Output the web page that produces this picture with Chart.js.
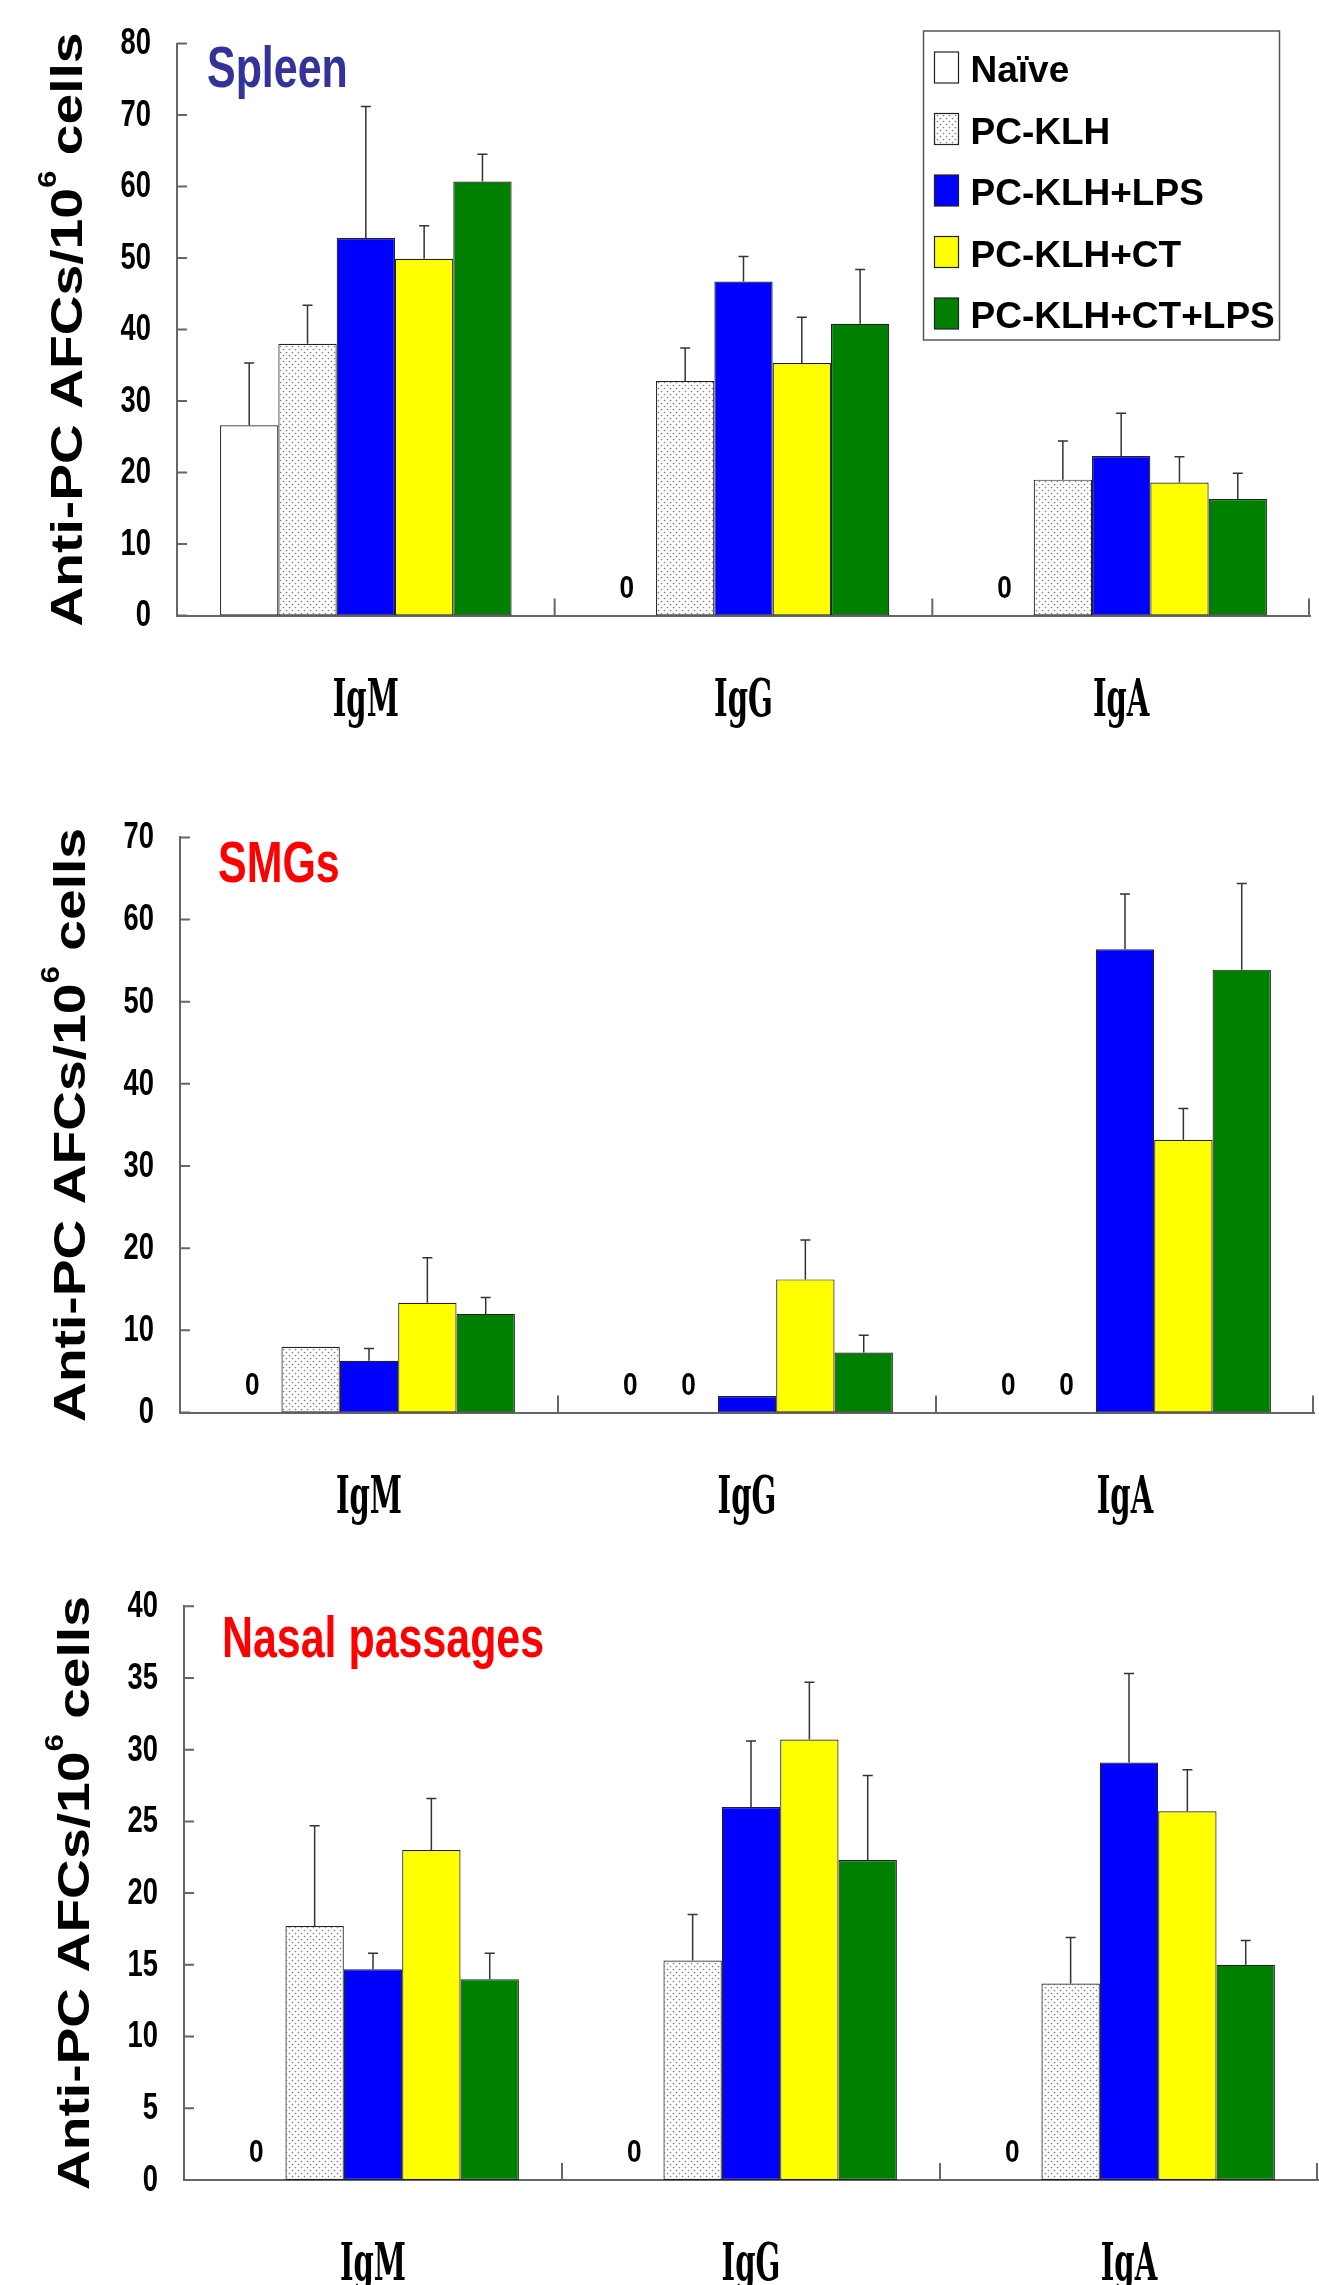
<!DOCTYPE html>
<html>
<head>
<meta charset="utf-8">
<script src="https://cdn.jsdelivr.net/npm/chart.js@4.4.0/dist/chart.umd.min.js"></script>
<style>
  body { margin: 0; background: #fff; }
  #wrap { position: relative; width: 1319px; height: 2285px; }
  canvas { position: absolute; left: 0; }
</style>
</head>
<body>
<div id="wrap">
  <canvas id="spleen" width="1319" height="760" style="top:0px"></canvas>
  <canvas id="smg" width="1319" height="770" style="top:760px"></canvas>
  <canvas id="nasal" width="1319" height="755" style="top:1530px"></canvas>
</div>
<script>
const categories = ['IgM', 'IgG', 'IgA'];
const groupNames = ['Naïve', 'PC-KLH', 'PC-KLH+LPS', 'PC-KLH+CT', 'PC-KLH+CT+LPS'];

// Spleen
const spleenNaive = [26.6, 0, 0];
const spleenKLH = [38.0, 32.8, 19.0];
const spleenLPS = [52.8, 46.7, 22.3];
const spleenCT = [49.9, 35.3, 18.6];
const spleenCTLPS = [60.7, 40.8, 16.3];
const spleenNaiveErr = [8.7, 0, 0];
const spleenKLHErr = [5.4, 4.6, 5.4];
const spleenLPSErr = [18.4, 3.5, 6.0];
const spleenCTErr = [4.6, 6.4, 3.6];
const spleenCTLPSErr = [3.8, 7.6, 3.6];

// SMGs
const smgNaive = [0, 0, 0];
const smgKLH = [8.0, 0, 0];
const smgLPS = [6.3, 2.0, 56.4];
const smgCT = [13.35, 16.2, 33.2];
const smgCTLPS = [12.0, 7.3, 53.9];
const smgNaiveErr = [0, 0, 0];
const smgKLHErr = [0, 0, 0];
const smgLPSErr = [1.5, 0, 6.7];
const smgCTErr = [5.5, 4.8, 3.8];
const smgCTLPSErr = [2.0, 2.1, 10.5];

// Nasal passages
const nasalNaive = [0, 0, 0];
const nasalKLH = [17.7, 15.3, 13.7];
const nasalLPS = [14.7, 26.0, 29.1];
const nasalCT = [23.0, 30.7, 25.7];
const nasalCTLPS = [14.0, 22.3, 15.0];
const nasalNaiveErr = [0, 0, 0];
const nasalKLHErr = [7.0, 3.2, 3.2];
const nasalLPSErr = [1.1, 4.6, 6.2];
const nasalCTErr = [3.6, 4.0, 2.9];
const nasalCTLPSErr = [1.8, 5.9, 1.7];

const yTitleMain = 'Anti-PC AFCs/10';
const yTitleSup = '6';
const yTitleEnd = ' cells';

const SANS = '"Liberation Sans", Arial, sans-serif';
const SLAB = '"DejaVu Serif", "Liberation Serif", serif';

function dotPattern() {
  const c = document.createElement('canvas');
  c.width = 6; c.height = 6;
  const g = c.getContext('2d');
  g.fillStyle = '#fff';
  g.fillRect(0, 0, 6, 6);
  g.fillStyle = '#808080';
  g.beginPath(); g.arc(1.5, 1.5, 0.85, 0, Math.PI * 2); g.fill();
  g.beginPath(); g.arc(4.5, 4.5, 0.85, 0, Math.PI * 2); g.fill();
  return g.createPattern(c, 'repeat');
}
const dots = dotPattern();
const fills = ['#ffffff', dots, '#0000ff', '#ffff00', '#008000'];

// draw text squeezed horizontally
function narrowText(ctx, text, x, y, font, sx, align) {
  ctx.save();
  ctx.font = font;
  ctx.translate(x, y);
  ctx.scale(sx, 1);
  ctx.textAlign = align;
  ctx.fillText(text, 0, 0);
  ctx.restore();
}

// error bars, zero labels, inner ticks, tick labels, titles, legend
const decor = {
  id: 'decor',
  afterDatasetsDraw(chart) {
    const ctx = chart.ctx;
    const y = chart.scales.y;
    const errs = chart.options.plugins.decor.errors;
    ctx.save();
    chart.data.datasets.forEach((ds, di) => {
      const meta = chart.getDatasetMeta(di);
      meta.data.forEach((bar, i) => {
        const v = ds.data[i];
        const e = errs[di][i];
        if (v === 0) {
          ctx.fillStyle = '#000';
          ctx.textBaseline = 'alphabetic';
          narrowText(ctx, '0', bar.x, y.bottom - 18, 'bold 32px ' + SANS, 0.82, 'center');
        } else if (e) {
          const top = y.getPixelForValue(v + e);
          ctx.strokeStyle = '#333';
          ctx.lineWidth = 1.5;
          ctx.beginPath();
          ctx.moveTo(bar.x, bar.y);
          ctx.lineTo(bar.x, top);
          ctx.moveTo(bar.x - 5, top);
          ctx.lineTo(bar.x + 5, top);
          ctx.stroke();
        }
      });
    });
    ctx.restore();
  },
  afterDraw(chart) {
    const ctx = chart.ctx;
    const y = chart.scales.y, x = chart.scales.x;
    const o = chart.options.plugins.decor;
    const area = chart.chartArea;
    ctx.save();
    // inward ticks
    ctx.strokeStyle = '#666';
    ctx.lineWidth = 2;
    ctx.beginPath();
    y.ticks.forEach(t => {
      const py = y.getPixelForValue(t.value);
      ctx.moveTo(area.left, py);
      ctx.lineTo(area.left + 10, py);
    });
    const n = categories.length;
    for (let i = 0; i < n; i++) {
      const px = i < n - 1 ? (x.getPixelForTick(i) + x.getPixelForTick(i + 1)) / 2 : area.right - 1;
      ctx.moveTo(px, area.bottom);
      ctx.lineTo(px, area.bottom - 17);
    }
    ctx.stroke();

    // y tick labels (condensed)
    ctx.fillStyle = '#000';
    ctx.textBaseline = 'middle';
    y.ticks.forEach(t => {
      narrowText(ctx, String(t.value), area.left - 26, y.getPixelForValue(t.value) + 1,
        'bold 36px ' + SANS, 0.76, 'right');
    });

    // category labels (condensed slab serif)
    ctx.textBaseline = 'alphabetic';
    categories.forEach((c, i) => {
      narrowText(ctx, c, x.getPixelForValue(i), area.bottom + 100, 'bold 52px ' + SLAB, 0.56, 'center');
    });

    // y axis title with superscript
    ctx.save();
    ctx.translate(area.left - 95, (area.top + area.bottom) / 2);
    ctx.rotate(-Math.PI / 2);
    ctx.font = 'bold 44px ' + SANS;
    const w1 = ctx.measureText(yTitleMain).width;
    const w3 = ctx.measureText(yTitleEnd).width;
    ctx.font = 'bold 25px ' + SANS;
    const w2 = ctx.measureText(yTitleSup).width;
    const total = w1 + w2 + w3;
    ctx.scale(594 / total, 1);
    ctx.textAlign = 'left';
    ctx.fillStyle = '#000';
    ctx.font = 'bold 44px ' + SANS;
    ctx.fillText(yTitleMain, -total / 2, 0);
    ctx.font = 'bold 25px ' + SANS;
    ctx.fillText(yTitleSup, -total / 2 + w1, -26);
    ctx.font = 'bold 44px ' + SANS;
    ctx.fillText(yTitleEnd, -total / 2 + w1 + w2, 0);
    ctx.restore();

    // panel title
    ctx.fillStyle = o.titleColor;
    narrowText(ctx, o.title, area.left + o.titleDx, area.top + o.titleDy, 'bold 58px ' + SANS, 0.74, 'left');

    // legend
    if (o.legend) {
      const L = o.legend;
      ctx.strokeStyle = '#555';
      ctx.lineWidth = 1.5;
      ctx.strokeRect(L.x, L.y, L.w, L.h);
      chart.data.datasets.forEach((ds, i) => {
        const ry = L.y + 21 + i * 61.5;
        ctx.fillStyle = ds.backgroundColor;
        ctx.fillRect(L.x + 11, ry, 24, 31);
        ctx.strokeStyle = '#222';
        ctx.lineWidth = 1.2;
        ctx.strokeRect(L.x + 11, ry, 24, 31);
        ctx.fillStyle = '#000';
        ctx.font = 'bold 37px ' + SANS;
        ctx.textAlign = 'left';
        ctx.fillText(ds.label, L.x + 47, ry + 30);
      });
    }
    ctx.restore();
  }
};

function makePanel(id, series, errors, p) {
  const H = document.getElementById(id).height;
  return new Chart(document.getElementById(id), {
    type: 'bar',
    data: {
      labels: categories,
      datasets: series.map((s, i) => ({
        label: groupNames[i],
        data: s,
        backgroundColor: fills[i],
        borderColor: '#222',
        borderWidth: c => (c.raw === 0 ? 0 : 1.2),
        borderSkipped: false,
        categoryPercentage: 0.772,
        barPercentage: 1.0
      }))
    },
    options: {
      responsive: false,
      animation: false,
      devicePixelRatio: 1,
      layout: { padding: { top: p.top, right: 1319 - p.right, left: 0, bottom: 0 } },
      plugins: {
        legend: { display: false },
        tooltip: { enabled: false },
        decor: { errors: errors, title: p.title, titleColor: p.titleColor,
                 titleDx: p.titleDx, titleDy: p.titleDy, legend: p.legend }
      },
      scales: {
        x: {
          grid: { display: false },
          border: { display: true, color: '#666', width: 2 },
          ticks: { display: false },
          afterFit: s => { s.height = H - p.bottom; }
        },
        y: {
          min: 0, max: p.max,
          grid: { display: false },
          border: { display: true, color: '#666', width: 2 },
          ticks: { stepSize: p.step, display: false },
          afterFit: s => { s.width = p.left; }
        }
      }
    },
    plugins: [decor]
  });
}

makePanel('spleen',
  [spleenNaive, spleenKLH, spleenLPS, spleenCT, spleenCTLPS],
  [spleenNaiveErr, spleenKLHErr, spleenLPSErr, spleenCTErr, spleenCTLPSErr],
  { left: 177, right: 1310, top: 43.5, bottom: 615.5, max: 80, step: 10,
    title: 'Spleen', titleColor: '#333399', titleDx: 30, titleDy: 43,
    legend: { x: 923.5, y: 31, w: 356, h: 309 } });

makePanel('smg',
  [smgNaive, smgKLH, smgLPS, smgCT, smgCTLPS],
  [smgNaiveErr, smgKLHErr, smgLPSErr, smgCTErr, smgCTLPSErr],
  { left: 180, right: 1314, top: 77.4, bottom: 652.5, max: 70, step: 10,
    title: 'SMGs', titleColor: '#ff0000', titleDx: 38, titleDy: 45 });

makePanel('nasal',
  [nasalNaive, nasalKLH, nasalLPS, nasalCT, nasalCTLPS],
  [nasalNaiveErr, nasalKLHErr, nasalLPSErr, nasalCTErr, nasalCTLPSErr],
  { left: 184, right: 1318, top: 76.2, bottom: 650, max: 40, step: 5,
    title: 'Nasal passages', titleColor: '#ff0000', titleDx: 38, titleDy: 51 });
</script>
</body>
</html>
